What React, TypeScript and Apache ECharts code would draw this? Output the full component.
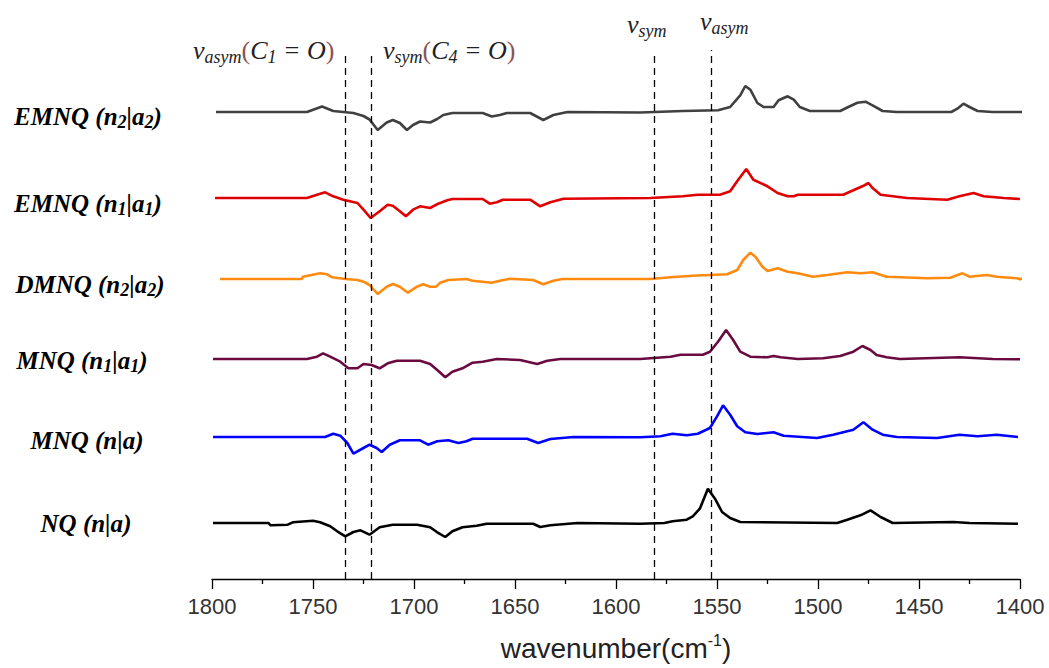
import React, { useEffect, useRef } from "react";
import * as echarts from "echarts";

// ---- data (wavenumber cm-1, relative intensity) ----
const X_MIN = 1400;
const X_MAX = 1800;
const X_STEP = 50;

const SERIES_NAMES = ["EMNQ (n2|a2)", "EMNQ (n1|a1)", "DMNQ (n2|a2)", "MNQ (n1|a1)", "MNQ (n|a)", "NQ (n|a)"];
const OFFSETS = [467, 381, 300, 220, 142, 56];
const COLORS = ["#404040", "#e00000", "#ff8a10", "#6a0a40", "#0000ff", "#000000"];

const EMNQ_N2A2: [number, number][] = [
  [1798, 0], [1753, 0], [1745.5, 5.5], [1740, 1], [1735, 0], [1730, -1], [1725, -4], [1722, -7.5], [1718, -18],
  [1713.5, -10.5], [1710.5, -8], [1707, -11], [1703.5, -18], [1700.5, -13], [1697, -9.5], [1692, -10.5],
  [1688.5, -7], [1685.5, -3], [1681, -1], [1666, -1], [1661.5, -4.5], [1657.5, -3], [1654, -1], [1642.5, -1],
  [1636, -8], [1631, -3], [1624, 0], [1588, -0.5], [1567, 1], [1549.5, 1.7], [1543.5, 5], [1538.5, 16.7],
  [1536, 26], [1533.5, 22.3], [1530, 9], [1527, 5], [1522, 5], [1519.5, 11.7], [1515, 15.7], [1512, 12.3],
  [1509, 5], [1504, 1], [1489, 1], [1485, 5], [1480.5, 9.3], [1476.5, 10.3], [1473, 6.7], [1468, 1], [1461, 0],
  [1434, 0], [1431, 3.3], [1428, 8.3], [1425, 5], [1421, 1], [1413.5, 0], [1398.5, 0],
];

const EMNQ_N1A1: [number, number][] = [
  [1798.5, 0], [1753, 0], [1748, 3.3], [1744, 5.7], [1740, 1.7], [1735, -1.7], [1728, -5], [1725, -11.7],
  [1721.5, -20], [1717, -13.3], [1713, -6.7], [1710.5, -7.7], [1707, -13.3], [1704, -18.3], [1700.5, -11.7],
  [1697, -8.3], [1692, -10], [1688, -5.7], [1683.5, -2.3], [1681, -1], [1666, -1], [1662.5, -5.7], [1659, -4.3],
  [1656, -1.7], [1642.5, -1.7], [1637.5, -8.3], [1632.5, -4.3], [1626, -0.7], [1583, 0], [1567, 1.7],
  [1559.5, 3.3], [1548.5, 3.3], [1543.5, 6.7], [1539.5, 18.3], [1535.5, 29], [1532, 18.3], [1525, 11.7],
  [1520, 5], [1515, 1.7], [1512, 1.7], [1510, 3.3], [1487.5, 3.3], [1482.5, 7.7], [1478, 11.7], [1475, 15],
  [1473, 10], [1469, 3.3], [1456, 0], [1436, -1.7], [1430, 1.7], [1423, 5], [1418, 1.7], [1408, 0], [1400, -1],
];

const DMNQ_N2A2: [number, number][] = [
  [1796, 0], [1755.5, 0], [1755, 2.3], [1746.5, 5.7], [1743, 4.7], [1740.5, 1.7], [1734, 0], [1728, -1],
  [1725, -2.7], [1722, -6], [1718, -15], [1713.5, -7.7], [1710.5, -5], [1707, -7.7], [1703, -13.7],
  [1698.5, -7.7], [1695.5, -5.3], [1692, -7.7], [1689, -7.7], [1687, -3.7], [1683, -1], [1674, 0],
  [1671, -1.7], [1661.5, -3.7], [1657.5, -1.7], [1652.5, 0.3], [1641, -1], [1636, -5.3], [1631, -1.7],
  [1626.5, 0], [1583, 0], [1573, 1.7], [1562, 3.3], [1545, 4.7], [1540, 9], [1537, 19], [1533.5, 26.3],
  [1531, 22.3], [1527.5, 12.3], [1525, 8], [1520, 10.7], [1515, 7.3], [1510, 5.7], [1502.5, 2.3], [1495.5, 4],
  [1485.5, 6.7], [1479, 5.7], [1473, 6.7], [1466, 2.3], [1446, 0.7], [1434.5, 1.3], [1428.5, 5.7], [1425, 2.3],
  [1416.5, 4], [1411.5, 2.3], [1401.5, 0.7], [1400, -0.3], [1396.5, 2.3],
];

const MNQ_N1A1: [number, number][] = [
  [1799.5, 0], [1753, 0], [1748, 2.3], [1745, 5.7], [1741.5, 2.3], [1736.5, -2.7], [1732.5, -9.3], [1728, -9.3],
  [1725, -5], [1721, -6], [1717, -9.3], [1713, -4.3], [1708.5, -1.7], [1697, -1.7], [1692, -5], [1688.5, -11],
  [1684.5, -18.3], [1681, -12.7], [1676, -9.3], [1671, -3.7], [1666, -2.7], [1659, 0], [1647.5, -1],
  [1639, -5], [1634, -1.7], [1627.5, 0], [1588, 0], [1573, 2.3], [1568, 4.3], [1557, 4.3], [1553.5, 7.3],
  [1549.5, 17.3], [1545.5, 29], [1542, 19], [1538.5, 7.3], [1533.5, 2.3], [1525, 1.7], [1522, 3], [1518.5, 1.7],
  [1510, 0], [1497.5, 0.7], [1489, 3], [1482.5, 7.3], [1478, 13], [1474, 9], [1471, 4], [1466, 1.7],
  [1459.5, 0], [1430, 1.7], [1413.5, 0], [1400, -0.3],
];

const MNQ_NA: [number, number][] = [
  [1799.5, 0], [1744, 0], [1740, 3.3], [1736.5, 1.3], [1733, -6], [1730, -16.7], [1725, -11], [1722, -7.7],
  [1718.5, -11], [1716, -15], [1712, -7.7], [1707, -3.3], [1697, -3.3], [1693, -7.7], [1688.5, -4.3],
  [1683, -3.3], [1678, -6], [1674, -4.3], [1671, -1.7], [1644, -1.7], [1638.5, -6], [1632.5, -2], [1621, 0],
  [1588, -0.3], [1578, 0.7], [1572, 3.3], [1565, 1.7], [1559.5, 3.3], [1553.5, 9], [1550, 20.7], [1547, 31.7],
  [1543.5, 22.3], [1540, 10.7], [1536, 4.7], [1530, 3], [1522, 4.7], [1517, 1.3], [1500.5, -1], [1492.5, 2.3],
  [1482.5, 7.3], [1477.5, 14.7], [1473, 7.3], [1468, 2.3], [1461, 0], [1441, -1], [1430, 2.3], [1421, 0.7],
  [1411.5, 2.3], [1401, 0],
];

const NQ_NA: [number, number][] = [
  [1799.5, 0], [1772, 0], [1771, -2.3], [1762.5, -1.7], [1760, 0.7], [1750, 2.3], [1746.5, 0.7], [1741.5, -3.3],
  [1738, -8.3], [1734, -13.3], [1730, -9], [1726.5, -7.3], [1722, -11.7], [1717, -4.3], [1710.5, -1.7],
  [1698.5, -1.7], [1692, -4.3], [1688.5, -9.3], [1684.5, -14], [1681, -8.3], [1676, -4.3], [1669, -2.7],
  [1664, -0.7], [1641, -0.7], [1637.5, -4], [1632.5, -2.3], [1619, 0], [1588, -0.7], [1576, 0], [1572, 1.7],
  [1565, 3.3], [1562, 6.7], [1558.5, 14.3], [1554.5, 34.3], [1551, 24.3], [1547.5, 11], [1543.5, 5],
  [1538.5, 1], [1490.5, 0], [1485.5, 3.3], [1479, 7.7], [1474, 12.7], [1469, 6], [1463, 0], [1433, 1],
  [1425, 0], [1401, -0.7],
];

const SPECTRA = [EMNQ_N2A2, EMNQ_N1A1, DMNQ_N2A2, MNQ_N1A1, MNQ_NA, NQ_NA];

// band positions marked by dashed lines (cm-1) and their top (intensity units)
const BAND_POSITIONS = [1734, 1721, 1581, 1553];
const BAND_TOPS = [526, 526, 524, 529];

const Y_MAX = 559;

const SERIF = "'Liberation Serif', 'DejaVu Serif', serif";
const SANS = "'Liberation Sans', Arial, sans-serif";

const labelRich = {
  b: { fontFamily: SERIF, fontSize: 25, fontWeight: "bold", fontStyle: "italic", fill: "#000" },
  s: { fontFamily: SERIF, fontSize: 18, fontWeight: "bold", fontStyle: "italic", fill: "#000", padding: [11, 0, 0, 0] },
};

const annRich = {
  v: { fontFamily: SERIF, fontSize: 26, fontStyle: "italic", fill: "#222" },
  s: { fontFamily: SERIF, fontSize: 18, fontStyle: "italic", fill: "#222", padding: [13, 0, 0, 0] },
  p: { fontFamily: SERIF, fontSize: 26, fill: "#8a5555" },
};

function labelText(name: string): string {
  // "EMNQ (n2|a2)" -> rich text with subscripts
  const m = name.match(/^(.*\()n(\d?)\|a(\d?)\)$/);
  if (!m) return `{b|${name}}`;
  const [, head, s1, s2] = m;
  return `{b|${head}n}` + (s1 ? `{s|${s1}}` : "") + `{b||a}` + (s2 ? `{s|${s2}}` : "") + `{b|)}`;
}

const LABEL_POS: [number, number][] = [
  [88, 116], [88, 203], [90, 284], [82, 360], [87, 440], [86, 523],
];

export default function App() {
  const ref = useRef<HTMLDivElement>(null);
  useEffect(() => {
    if (!ref.current) return;
    const chart = echarts.init(ref.current, undefined, { renderer: "svg" });

    const series: any[] = SPECTRA.map((spec, i) => ({
      type: "line",
      name: SERIES_NAMES[i],
      data: spec.map(([w, v]) => [w, OFFSETS[i] + v]),
      showSymbol: false,
      clip: false,
      smooth: false,
      lineStyle: { color: COLORS[i], width: 2.6 },
      itemStyle: { color: COLORS[i] },
      z: 2,
    }));

    series.push({
      type: "line",
      data: [],
      silent: true,
      z: 3,
      markLine: {
        silent: true,
        symbol: "none",
        label: { show: false },
        lineStyle: { color: "#000", width: 1.3, type: [7, 5] },
        data: BAND_POSITIONS.map((w, i) => [
          { coord: [w, 0] },
          { coord: [w, BAND_TOPS[i]] },
        ]),
      },
    });

    const graphic: any[] = SERIES_NAMES.map((n, i) => ({
      type: "text",
      x: LABEL_POS[i][0],
      y: LABEL_POS[i][1],
      style: { text: labelText(n), rich: labelRich, align: "center", verticalAlign: "middle" },
    }));

    graphic.push(
      {
        type: "text",
        x: 193,
        y: 50,
        style: {
          text: "{v|v}{s|asym}{p|(}{v|C}{s|1}{v| = O}{p|)}",
          rich: annRich,
          align: "left",
          verticalAlign: "middle",
        },
      },
      {
        type: "text",
        x: 383,
        y: 50,
        style: {
          text: "{v|v}{s|sym}{p|(}{v|C}{s|4}{v| = O}{p|)}",
          rich: annRich,
          align: "left",
          verticalAlign: "middle",
        },
      },
      {
        type: "text",
        x: 627,
        y: 24,
        style: { text: "{v|v}{s|sym}", rich: annRich, align: "left", verticalAlign: "middle" },
      },
      {
        type: "text",
        x: 700,
        y: 21,
        style: { text: "{v|v}{s|asym}", rich: annRich, align: "left", verticalAlign: "middle" },
      },
      {
        type: "text",
        x: 616,
        y: 648,
        style: {
          text: "{t|wavenumber(cm}{u|-1}{t|)}",
          rich: {
            t: { fontFamily: SANS, fontSize: 28, fill: "#222" },
            u: { fontFamily: SANS, fontSize: 16, fill: "#222", padding: [0, 0, 16, 0] },
          },
          align: "center",
          verticalAlign: "middle",
        },
      }
    );

    chart.setOption({
      animation: false,
      backgroundColor: "#fff",
      grid: { left: 212, right: 29, top: 20, bottom: 89, containLabel: false },
      xAxis: {
        type: "value",
        min: X_MIN,
        max: X_MAX,
        interval: X_STEP,
        inverse: true,
        axisLine: { onZero: false, lineStyle: { color: "#000", width: 1.3 } },
        axisTick: { show: true, length: 10, lineStyle: { color: "#000", width: 1.3 } },
        minorTick: { show: true, splitNumber: 2, length: 5, lineStyle: { color: "#000", width: 1.3 } },
        splitLine: { show: false },
        minorSplitLine: { show: false },
        axisLabel: {
          fontFamily: SANS,
          fontSize: 22,
          color: "#333",
          margin: 16,
          formatter: (v: number) => String(v),
        },
      },
      yAxis: { type: "value", min: 0, max: Y_MAX, show: false },
      series,
      graphic,
    });

    return () => chart.dispose();
  }, []);

  return (
    <div
      ref={ref}
      style={{ position: "fixed", left: 0, top: 0, width: 1049, height: 668, background: "#fff" }}
    />
  );
}
